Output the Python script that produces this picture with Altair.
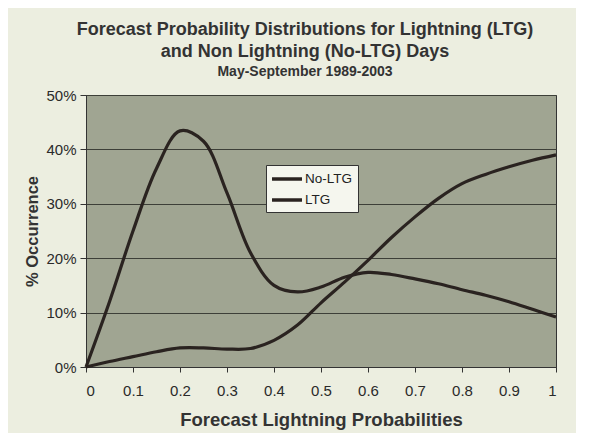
import altair as alt
import pandas as pd

probs = [0, 0.05, 0.1, 0.15, 0.2, 0.25, 0.3, 0.35, 0.4, 0.45, 0.5,
         0.55, 0.6, 0.65, 0.7, 0.75, 0.8, 0.85, 0.9, 0.95, 1.0]
no_ltg = [0, 12, 25, 36.5, 43.4, 41.5, 32, 21, 15, 13.8, 14.7,
          16.5, 17.4, 17, 16.2, 15.3, 14.2, 13.2, 12, 10.6, 9.2]
ltg = [0, 1, 1.9, 2.8, 3.5, 3.5, 3.3, 3.4, 4.9, 7.7, 11.8,
       15.6, 19.6, 23.8, 27.6, 31, 33.7, 35.4, 36.8, 38, 39]
series_names = ["No-LTG", "LTG"]

rows = []
for p, v in zip(probs, no_ltg):
    rows.append({"p": p, "v": v / 100, "s": "No-LTG"})
for p, v in zip(probs, ltg):
    rows.append({"p": p, "v": v / 100, "s": "LTG"})
df = pd.DataFrame(rows)

line_col = "#2a2320"
FONT = "Liberation Sans"

chart = alt.Chart(df).mark_line(
    interpolate="catmull-rom", strokeWidth=3.2
).encode(
    x=alt.X("p:Q", scale=alt.Scale(domain=[0, 1], nice=False),
            axis=alt.Axis(values=[0, 0.1, 0.2, 0.3, 0.4, 0.5, 0.6, 0.7, 0.8, 0.9, 1],
                          labelExpr="datum.value == 0 ? '0' : datum.value == 1 ? '1' : format(datum.value, '.1f')",
                          grid=False, tickSize=5, tickColor="#333", domainColor="#333",
                          labelFontSize=15, labelColor="#2a2a2a", labelPadding=11,
                          title="Forecast Lightning Probabilities", titleFontSize=18.5,
                          titleFontWeight="bold", titleColor="#333", titlePadding=12,
                          labelFont=FONT, titleFont=FONT)),
    y=alt.Y("v:Q", scale=alt.Scale(domain=[0, 0.5], nice=False),
            axis=alt.Axis(values=[0, 0.1, 0.2, 0.3, 0.4, 0.5], format=".0%",
                          grid=True, gridColor="#3d3f38", gridWidth=1, tickSize=6,
                          tickColor="#333", domainColor="#333",
                          labelFontSize=15, labelColor="#2a2a2a", labelPadding=4,
                          title="% Occurrence", titleFontSize=16.5, titleFontWeight="bold",
                          titleColor="#333", titlePadding=5,
                          labelFont=FONT, titleFont=FONT)),
    color=alt.Color("s:N", scale=alt.Scale(domain=series_names, range=[line_col, line_col]),
                    legend=alt.Legend(title=None, orient="none", legendX=180, legendY=70,
                                      symbolType="M-1.14,0H3.14", symbolStrokeWidth=3.5,
                                      symbolSize=196, labelFontSize=13.5,
                                      labelFont=FONT, labelColor="#222",
                                      fillColor="#f5f6ee", strokeColor="#333",
                                      padding=5, rowPadding=5, labelOffset=16)),
    detail="s:N",
).properties(
    width=470, height=272,
    background="#eceee0",
    padding={"left": 78, "top": 87, "right": 20, "bottom": 66},
    autosize=alt.AutoSizeParams(type="none"),
    title=alt.TitleParams(
        text=["Forecast Probability Distributions for Lightning (LTG)",
              "and Non Lightning (No-LTG) Days"],
        subtitle="May-September 1989-2003",
        fontSize=18, font=FONT, fontWeight="bold", color="#333",
        subtitleFontSize=14, subtitleFont=FONT,
        subtitleFontWeight="bold", subtitleColor="#333",
        lineHeight=22, subtitlePadding=4, offset=9, dx=-16, anchor="middle"),
).configure_view(
    fill="#a0a592", stroke="#333", strokeWidth=1
)

chart.save("out.html", embed_options={"renderer": "svg", "actions": False})
